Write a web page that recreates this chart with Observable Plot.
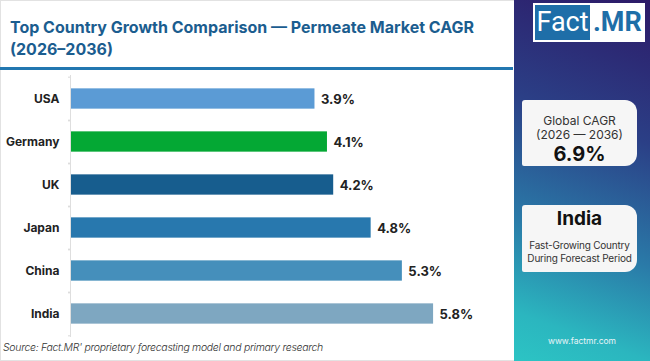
<!DOCTYPE html>
<html><head><meta charset="utf-8">
<script src="https://cdn.jsdelivr.net/npm/d3@7"></script>
<script src="https://cdn.jsdelivr.net/npm/@observablehq/plot@0.6"></script>
<style>
body{margin:0;width:650px;height:361px;overflow:hidden;font-family:Inter,"Open Sans",sans-serif;background:#fff;position:relative}
#frame{position:absolute;left:0;top:0;width:648px;height:359px;border:1px solid #e2e2e2}
#title{position:absolute;left:10px;top:16px;font-size:16px;font-weight:700;line-height:22px;color:#1b5d8f}
#rule{position:absolute;left:0;top:67px;width:513px;height:3px;background:#2277b0}
#chart{position:absolute;left:0;top:72px}
#source{position:absolute;left:3px;top:341px;font-size:10.5px;letter-spacing:-0.3px;font-style:italic;color:#333;font-weight:300}
#panel{position:absolute;left:514px;top:0;width:136px;height:361px;background:linear-gradient(200deg,#2d1a68 0%,#2b3f86 35%,#2a7aa8 65%,#2bb6bf 88%,#2cc4c4 100%)}
#logo{position:absolute;left:19px;top:3px;width:108px;height:35px;border:2px solid #fff;background:#fff;display:flex;font-family:Roboto,sans-serif;font-size:27px;line-height:35px;overflow:hidden;white-space:nowrap}
#logo .f{background:#1e6ea8;color:#fff;width:55px;text-align:center}
#logo .m{color:#1e6ea8;font-weight:700;padding-left:3px}
.card{position:absolute;left:8px;width:115px;background:#f6f6f6;border-radius:3px 12px 12px 2px;text-align:center;color:#333}
#c1{top:100px;height:66px;font-size:12px;line-height:14px}
#c1 .l1{margin-top:14px}
#c1 .big{font-size:20px;font-weight:700;color:#111;line-height:22px;margin-top:1px}
#c2{top:205px;height:67px;font-size:10px;line-height:13px;letter-spacing:-0.2px}
#c2 .big2{font-size:19px;font-weight:700;color:#111;line-height:22px;margin-top:3px;margin-bottom:9px;letter-spacing:0}
#url{position:absolute;left:0;width:136px;top:336px;text-align:center;color:#e8f4f8;font-size:8.5px}
</style></head><body>
<div id="frame"></div>
<div id="title"></div>
<div id="rule"></div>
<div id="chart"></div>
<div id="source"></div>
<div id="panel">
  <div id="logo"><span class="f">Fact</span><span class="m">.MR</span></div>
  <div class="card" id="c1"><div class="l1" id="g1"></div><div id="g2"></div><div class="big" id="g3"></div></div>
  <div class="card" id="c2"><div class="big2" id="i1"></div><div id="i2"></div><div id="i3"></div></div>
  <div id="url">www.factmr.com</div>
</div>
<script>
const titleLines = ["Top Country Growth Comparison — Permeate Market CAGR", "(2026–2036)"];
const countries = ["USA", "Germany", "UK", "Japan", "China", "India"];
const cagr = [3.9, 4.1, 4.2, 4.8, 5.3, 5.8];
const barColors = ["#5b9bd5", "#04a834", "#175d8e", "#2878ae", "#458fbb", "#7ea7c1"];
const globalCagr = 6.9;
const forecastPeriod = "(2026 — 2036)";
const topCountry = "India";
const sourceText = "Source: Fact.MR' proprietary forecasting model and primary research";

document.getElementById("title").innerHTML = titleLines.join("<br>");
document.getElementById("source").textContent = sourceText;
document.getElementById("g1").textContent = "Global CAGR";
document.getElementById("g2").textContent = forecastPeriod;
document.getElementById("g3").textContent = globalCagr.toFixed(1) + "%";
document.getElementById("i1").textContent = topCountry;
document.getElementById("i2").textContent = "Fast-Growing Country";
document.getElementById("i3").textContent = "During Forecast Period";

const data = countries.map((c, i) => ({c, v: cagr[i], color: barColors[i]}));
const H = 268, mT = 3, mB = 3;
const step = (H - mT - mB) / countries.length;

const chart = Plot.plot({
  width: 512, height: H,
  marginLeft: 71, marginRight: 4, marginTop: mT, marginBottom: mB,
  style: {fontFamily: "Inter, sans-serif", fontSize: "12px", color: "#222", background: "transparent"},
  x: {domain: [0, 7], axis: null},
  y: {domain: countries, padding: 0, axis: null},
  color: {type: "identity"},
  marks: [
    Plot.barX(data, {x: "v", y: "c", fill: "color", insetTop: step * 0.26, insetBottom: step * 0.26}),
    Plot.text(data, {x: "v", y: "c", text: d => d.v.toFixed(1) + "%", textAnchor: "start", dx: 6, dy: 1, fontWeight: 700, fontSize: 13, fill: "#222"}),
    Plot.axisY({tickSize: 0, tickPadding: 12, fontWeight: 700, fontSize: 12, fill: "#222", label: null}),
    Plot.axisY({text: null, tickSize: 3, stroke: "#d8d8d8", dy: -step / 2, label: null}),
    Plot.axisY({text: null, tickSize: 3, stroke: "#d8d8d8", dy: step / 2, label: null}),
    Plot.ruleX([0], {stroke: "#dedede", dx: -1})
  ]
});
document.getElementById("chart").appendChild(chart);
</script>
</body></html>
